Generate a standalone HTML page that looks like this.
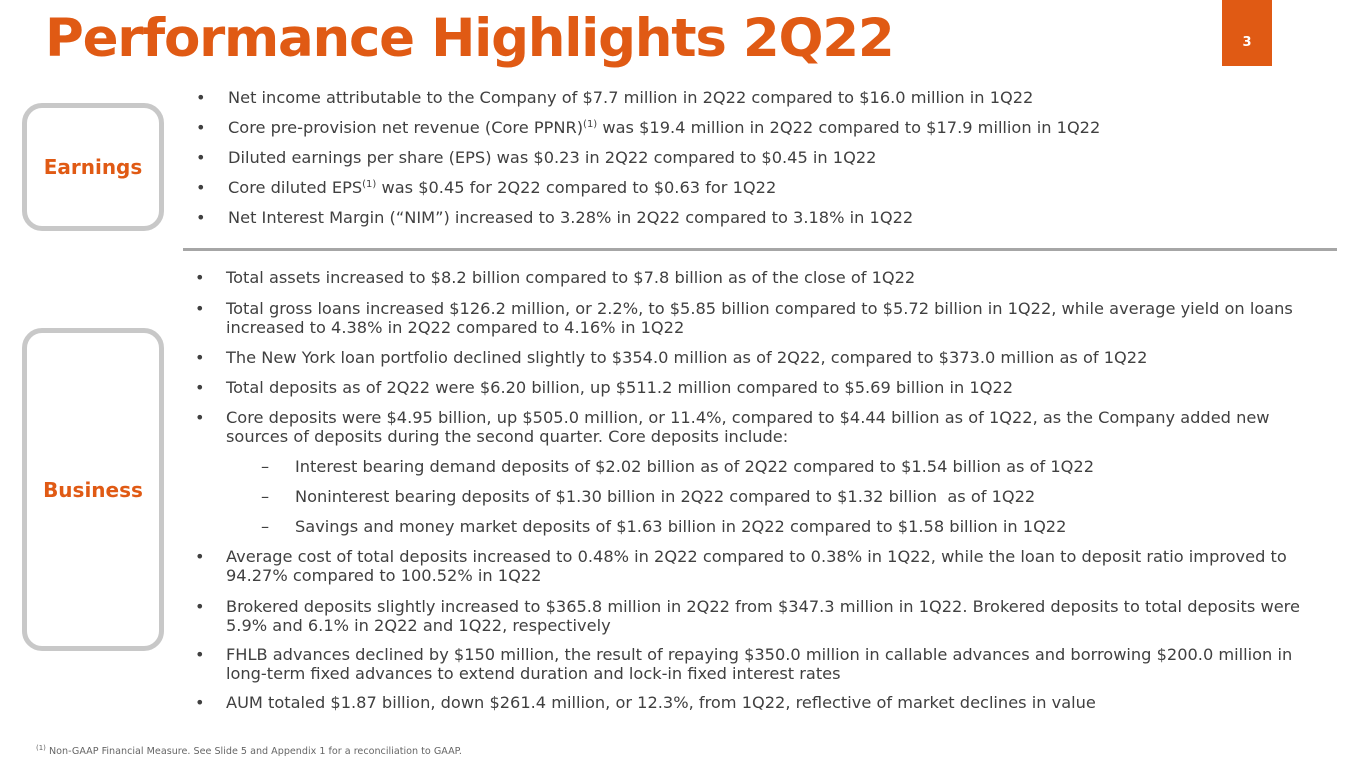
<!DOCTYPE html>
<html><head><meta charset="utf-8"><style>
body{margin:0;width:1365px;height:768px;overflow:hidden;background:#fff;position:relative;font-family:Verdana,"DejaVu Sans",sans-serif;}
.t{position:absolute;left:45px;top:8px;font-size:53px;font-weight:bold;color:#E05A14;white-space:nowrap;letter-spacing:-1.25px}
.pg{position:absolute;left:1222px;top:0;width:50px;height:66px;background:#E05A14;color:#fff;font-size:13px;font-weight:bold;text-align:center;line-height:86px}
.box{position:absolute;left:22px;width:132px;border:5px solid #c8c8c8;border-radius:20px;color:#E05A14;font-weight:bold;font-size:20px;display:flex;align-items:center;justify-content:center}
.sep{position:absolute;left:183px;top:248px;width:1154px;height:3px;background:#a6a6a6}
.l{position:absolute;font-size:16.2px;color:#404040;white-space:nowrap;line-height:19px}
.d{position:absolute;font-size:16.2px;color:#404040;line-height:19px}
sup{font-size:10px;vertical-align:6px;line-height:0}
.fn{position:absolute;left:36px;top:746px;font-size:9.6px;color:#666;white-space:nowrap}
</style></head><body>
<div class="t">Performance Highlights 2Q22</div>
<div class="pg">3</div>
<div class="box" style="top:103px;height:118px">Earnings</div>
<div class="box" style="top:328px;height:313px">Business</div>
<div class="sep"></div>

<div class="d" style="left:196px;top:88px">•</div><div class="l" style="left:228px;top:88px">Net income attributable to the Company of $7.7 million in 2Q22 compared to $16.0 million in 1Q22</div>
<div class="d" style="left:196px;top:118px">•</div><div class="l" style="left:228px;top:118px">Core pre-provision net revenue (Core PPNR)<sup>(1)</sup> was $19.4 million in 2Q22 compared to $17.9 million in 1Q22</div>
<div class="d" style="left:196px;top:148px">•</div><div class="l" style="left:228px;top:148px">Diluted earnings per share (EPS) was $0.23 in 2Q22 compared to $0.45 in 1Q22</div>
<div class="d" style="left:196px;top:178px">•</div><div class="l" style="left:228px;top:178px">Core diluted EPS<sup>(1)</sup> was $0.45 for 2Q22 compared to $0.63 for 1Q22</div>
<div class="d" style="left:196px;top:208px">•</div><div class="l" style="left:228px;top:208px">Net Interest Margin (“NIM”) increased to 3.28% in 2Q22 compared to 3.18% in 1Q22</div>

<div class="d" style="left:195px;top:268px">•</div><div class="l" style="left:226px;top:268px">Total assets increased to $8.2 billion compared to $7.8 billion as of the close of 1Q22</div>
<div class="d" style="left:195px;top:299px">•</div><div class="l" style="left:226px;top:299px">Total gross loans increased $126.2 million, or 2.2%, to $5.85 billion compared to $5.72 billion in 1Q22, while average yield on loans<br>increased to 4.38% in 2Q22 compared to 4.16% in 1Q22</div>
<div class="d" style="left:195px;top:348px">•</div><div class="l" style="left:226px;top:348px">The New York loan portfolio declined slightly to $354.0 million as of 2Q22, compared to $373.0 million as of 1Q22</div>
<div class="d" style="left:195px;top:378px">•</div><div class="l" style="left:226px;top:378px">Total deposits as of 2Q22 were $6.20 billion, up $511.2 million compared to $5.69 billion in 1Q22</div>
<div class="d" style="left:195px;top:408px">•</div><div class="l" style="left:226px;top:408px">Core deposits were $4.95 billion, up $505.0 million, or 11.4%, compared to $4.44 billion as of 1Q22, as the Company added new<br>sources of deposits during the second quarter. Core deposits include:</div>
<div class="d" style="left:261px;top:457px">–</div><div class="l" style="left:295px;top:457px">Interest bearing demand deposits of $2.02 billion as of 2Q22 compared to $1.54 billion as of 1Q22</div>
<div class="d" style="left:261px;top:487px">–</div><div class="l" style="left:295px;top:487px">Noninterest bearing deposits of $1.30 billion in 2Q22 compared to $1.32 billion &nbsp;as of 1Q22</div>
<div class="d" style="left:261px;top:517px">–</div><div class="l" style="left:295px;top:517px">Savings and money market deposits of $1.63 billion in 2Q22 compared to $1.58 billion in 1Q22</div>
<div class="d" style="left:195px;top:547px">•</div><div class="l" style="left:226px;top:547px">Average cost of total deposits increased to 0.48% in 2Q22 compared to 0.38% in 1Q22, while the loan to deposit ratio improved to<br>94.27% compared to 100.52% in 1Q22</div>
<div class="d" style="left:195px;top:597px">•</div><div class="l" style="left:226px;top:597px">Brokered deposits slightly increased to $365.8 million in 2Q22 from $347.3 million in 1Q22. Brokered deposits to total deposits were<br>5.9% and 6.1% in 2Q22 and 1Q22, respectively</div>
<div class="d" style="left:195px;top:645px">•</div><div class="l" style="left:226px;top:645px">FHLB advances declined by $150 million, the result of repaying $350.0 million in callable advances and borrowing $200.0 million in<br>long-term fixed advances to extend duration and lock-in fixed interest rates</div>
<div class="d" style="left:195px;top:693px">•</div><div class="l" style="left:226px;top:693px">AUM totaled $1.87 billion, down $261.4 million, or 12.3%, from 1Q22, reflective of market declines in value</div>

<div class="fn"><sup style="font-size:7px;vertical-align:4px">(1)</sup> Non-GAAP Financial Measure. See Slide 5 and Appendix 1 for a reconciliation to GAAP.</div>
</body></html>
